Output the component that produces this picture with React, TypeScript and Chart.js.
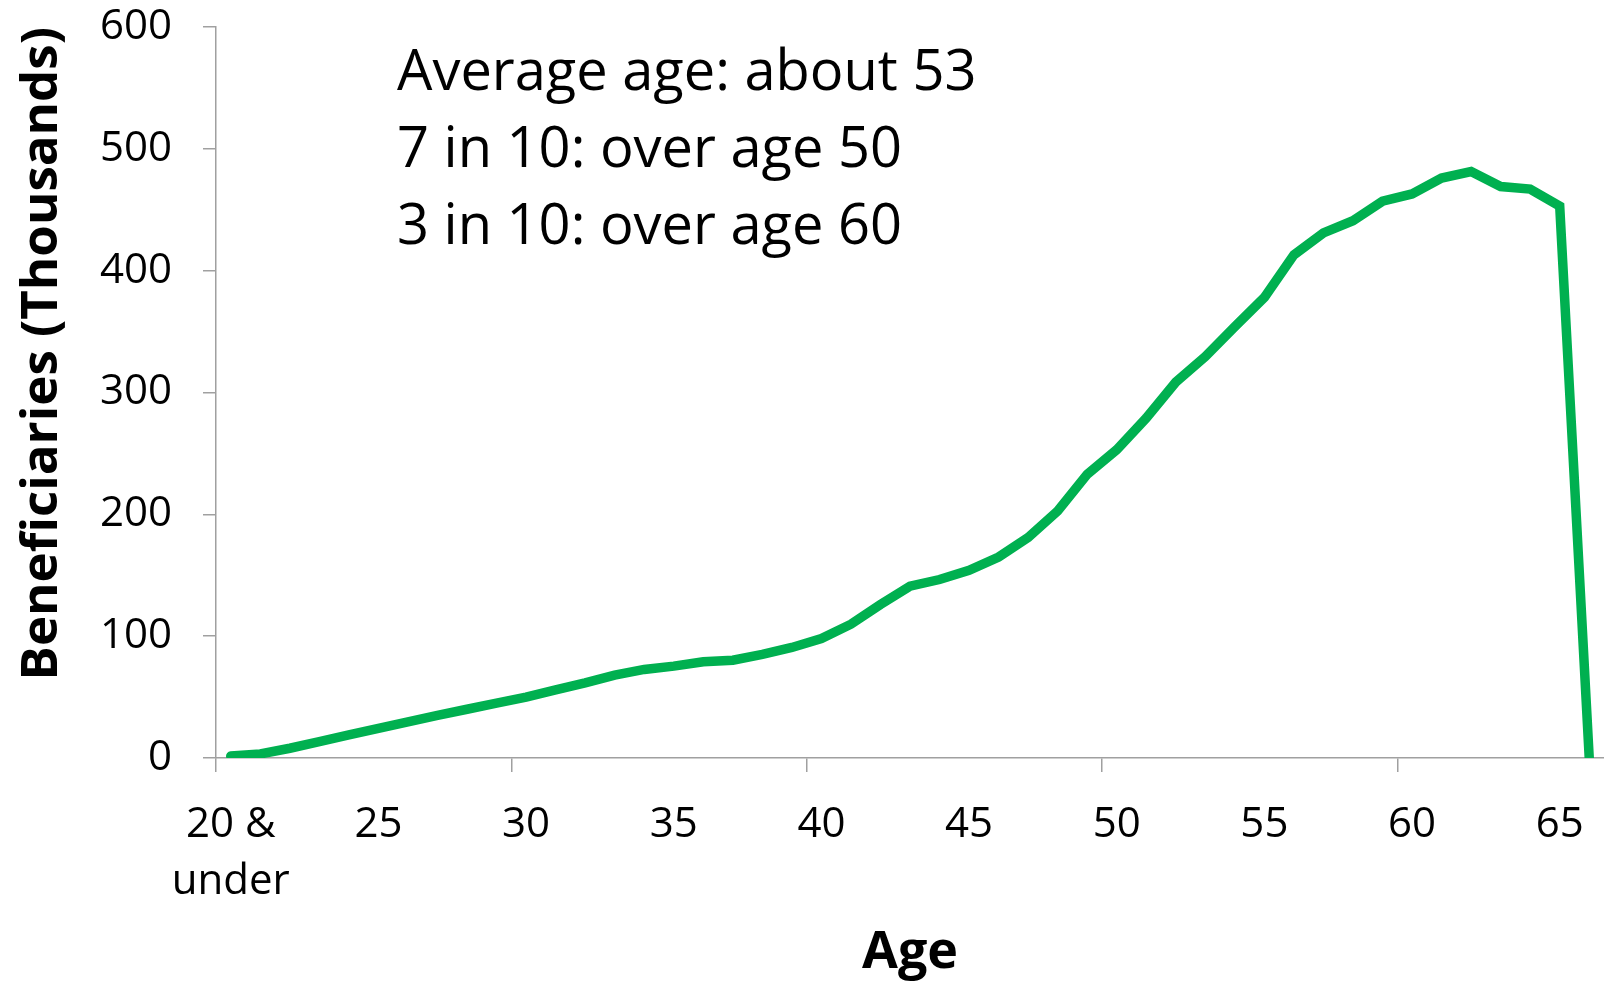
import React, { useEffect, useRef } from "react";
import { Chart, registerables } from "chart.js";

Chart.register(...registerables);

const ageLabels: (string | string[])[] = [
  ["20 &", "under"], "21", "22", "23", "24", "25", "26", "27", "28", "29",
  "30", "31", "32", "33", "34", "35", "36", "37", "38", "39",
  "40", "41", "42", "43", "44", "45", "46", "47", "48", "49",
  "50", "51", "52", "53", "54", "55", "56", "57", "58", "59",
  "60", "61", "62", "63", "64", "65", "66",
];

// Beneficiaries, thousands
const beneficiaries: number[] = [
  1.6, 3.3, 8, 13.4, 18.9, 24.3, 29.7, 35, 40, 45,
  50, 56, 61.7, 68, 72.7, 75.4, 79, 80.3, 85, 90.7,
  98, 109.8, 126, 141, 146.5, 154, 165, 181, 202.7, 232.8,
  253, 279, 308.5, 329.5, 354, 378, 413, 431, 441, 457,
  463, 476, 481.4, 469, 467, 453, 0,
];

const yMin = 0;
const yMax = 600;
const yStep = 100;

const annotationLines: string[] = [
  "Average age: about 53",
  "7 in 10: over age 50",
  "3 in 10: over age 60",
];

const xTitle = "Age";
const yTitle = "Beneficiaries (Thousands)";

const AXIS_COLOR = "#A0A0A0";
const LINE_COLOR = "#00B050";
const FONT = '"Open Sans", "Noto Sans", sans-serif';

const annotationPlugin = {
  id: "annotationText",
  afterDraw(chart: any) {
    const ctx = chart.ctx as CanvasRenderingContext2D;
    ctx.save();
    ctx.font = `56px ${FONT}`;
    ctx.fillStyle = "#000";
    ctx.textAlign = "left";
    ctx.textBaseline = "alphabetic";
    annotationLines.forEach((t, i) => ctx.fillText(t, 397, 90 + i * 77));
    ctx.restore();
  },
};

export default function App() {
  const ref = useRef<HTMLCanvasElement | null>(null);

  useEffect(() => {
    if (!ref.current) return;
    Chart.defaults.color = "#000";
    const chart = new Chart(ref.current, {
      type: "line",
      data: {
        labels: ageLabels,
        datasets: [
          {
            data: beneficiaries,
            borderColor: LINE_COLOR,
            backgroundColor: LINE_COLOR,
            borderWidth: 9.5,
            pointRadius: 0,
            pointHoverRadius: 0,
            tension: 0,
            borderCapStyle: "round",
            fill: false,
          },
        ],
      },
      options: {
        animation: false,
        responsive: false,
        devicePixelRatio: 1,
        events: [],
        layout: { padding: { top: 27, left: 0, right: 0, bottom: 0 } },
        plugins: {
          legend: { display: false },
          tooltip: { enabled: false },
          title: { display: false },
        },
        scales: {
          x: {
            type: "category",
            offset: true,
            afterFit: (scale: any) => {
              scale.height = 226;
              scale.paddingLeft = 0;
              scale.paddingRight = 0;
            },
            border: { display: true, color: AXIS_COLOR, width: 1.5 },
            grid: {
              offset: true,
              drawOnChartArea: false,
              drawTicks: true,
              tickLength: 14,
              lineWidth: 1.5,
              color: (ctx: any) =>
                typeof ctx.index === "number" && ctx.index % 10 === 0
                  ? AXIS_COLOR
                  : "rgba(0,0,0,0)",
            },
            ticks: {
              autoSkip: false,
              maxRotation: 0,
              minRotation: 0,
              padding: 24,
              color: "#000",
              font: { family: FONT, size: 42, lineHeight: 1.36 },
              callback: function (this: any, value: any, index: number) {
                return index % 5 === 0 ? this.getLabelForValue(value) : "";
              },
            },
            title: {
              display: true,
              text: xTitle,
              color: "#000",
              font: { family: FONT, size: 52, weight: "bold", lineHeight: 1.2 },
              padding: { top: 0, bottom: 0 },
            },
          },
          y: {
            min: yMin,
            max: yMax,
            afterFit: (scale: any) => {
              scale.width = 216;
              scale.paddingTop = 20;
              scale.paddingBottom = 20;
            },
            border: { display: true, color: AXIS_COLOR, width: 1.5 },
            grid: {
              drawOnChartArea: false,
              drawTicks: true,
              tickLength: 13,
              lineWidth: 1.5,
              color: AXIS_COLOR,
            },
            ticks: {
              stepSize: yStep,
              padding: 31,
              color: "#000",
              font: { family: FONT, size: 42 },
            },
            title: {
              display: true,
              text: yTitle,
              align: "end",
              color: "#000",
              font: { family: FONT, size: 51, weight: "bold", lineHeight: 1.2 },
              padding: { top: 12, bottom: 0 },
            },
          },
        },
      },
      plugins: [annotationPlugin],
    } as any);
    return () => chart.destroy();
  }, []);

  return (
    <div style={{ position: "absolute", left: 0, top: 0, width: 1604, height: 984, background: "#fff" }}>
      <canvas ref={ref} width={1604} height={984} style={{ width: 1604, height: 984, display: "block" }} />
    </div>
  );
}
